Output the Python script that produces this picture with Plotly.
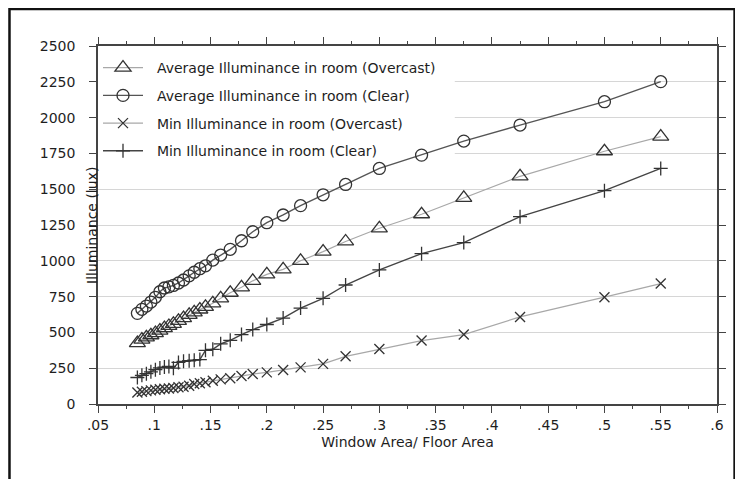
import plotly.graph_objects as go

# ---- data ----
ratio = [0.085, 0.089, 0.093, 0.097, 0.101, 0.105, 0.109, 0.113, 0.117, 0.1215,
         0.126, 0.131, 0.1355, 0.1405, 0.1455, 0.152, 0.159, 0.1675, 0.1775, 0.1875,
         0.2, 0.2145, 0.23, 0.25, 0.27, 0.3, 0.3375, 0.375, 0.425, 0.5, 0.55]

avg_overcast = [425, 450, 465, 480, 495, 512, 530, 545, 560, 580,
                600, 622, 640, 660, 678, 703, 738, 777, 815, 860,
                905, 940, 1000, 1064, 1135, 1227, 1325, 1440, 1590, 1765, 1867]

avg_clear = [633, 661, 684, 712, 745, 784, 810, 818, 828, 845,
             866, 895, 920, 945, 965, 1005, 1040, 1080, 1140, 1203,
             1266, 1320, 1385, 1461, 1533, 1645, 1738, 1836, 1948, 2111, 2251]

min_overcast = [80, 85, 90, 95, 100, 103, 106, 108, 112, 117,
                121, 128, 140, 145, 152, 162, 172, 180, 195, 209,
                221, 237, 256, 280, 333, 384, 443, 485, 608, 746, 841]

min_clear = [185, 200, 212, 225, 240, 252, 258, 262, 250, 290,
             298, 302, 306, 310, 375, 382, 420, 445, 485, 520,
             555, 600, 670, 738, 831, 936, 1050, 1127, 1308, 1490, 1645]

names = ["Average Illuminance in room (Overcast)",
         "Average Illuminance in room (Clear)",
         "Min Illuminance in room (Overcast)",
         "Min Illuminance in room (Clear)"]

x_tickvals = [0.05, 0.1, 0.15, 0.2, 0.25, 0.3, 0.35, 0.4, 0.45, 0.5, 0.55, 0.6]
x_ticktext = [".05", ".1", ".15", ".2", ".25", ".3", ".35", ".4", ".45", ".5", ".55", ".6"]
y_tickvals = [0, 250, 500, 750, 1000, 1250, 1500, 1750, 2000, 2250, 2500]

FONT = "DejaVu Sans"
MK = "#333333"
TXT = "#1e1e1e"
PAD = "\u00a0\u00a0"  # small gap between legend symbol and its label

fig = go.Figure()
styles = [
    (avg_overcast, "triangle-up-open", 14, "#a8a8a8", 1.2),
    (avg_clear, "circle-open", 12, "#555555", 1.4),
    (min_overcast, "x-thin-open", 10, "#a8a8a8", 1.2),
    (min_clear, "cross-thin-open", 10, "#444444", 1.4),
]
for i, (ys, sym, size, lc, lw) in enumerate(styles):
    fig.add_trace(go.Scatter(
        x=ratio, y=ys, name=PAD + names[i], mode="lines+markers",
        legendgroup=f"g{i}",
        line=dict(color=lc, width=lw),
        marker=dict(symbol=sym, size=size, color=MK, line=dict(width=1.3, color=MK)),
    ))

axis_common = dict(
    showline=True, linecolor="#444444", linewidth=1.5, mirror="ticks",
    ticks="outside", tickcolor="#444444", tickwidth=1.3, ticklen=7,
    tickfont=dict(family=FONT, size=14, color=TXT), zeroline=False,
)

fig.update_xaxes(
    range=[0.05, 0.6], tickvals=x_tickvals, ticktext=x_ticktext,
    showgrid=False,
    minor=dict(dtick=0.025, tick0=0.025, ticks="outside", ticklen=3, tickcolor="#444444", showgrid=False),
    title=dict(text="Window Area/ Floor Area", font=dict(family=FONT, size=14, color=TXT), standoff=6),
    **axis_common,
)
fig.update_yaxes(
    range=[0, 2500], tickvals=y_tickvals,
    showgrid=True, gridcolor="#d6d6d6", gridwidth=1,
    ticklabelstandoff=11,
    **axis_common,
)

fig.add_annotation(
    text="Illuminance (lux)", textangle=-90, xref="paper", yref="paper",
    x=-0.0097, y=0.5, xanchor="center", yanchor="middle", showarrow=False,
    font=dict(family=FONT, size=14, color=TXT),
)

# white patch behind the legend (hides the grid lines there, data stays on top)
fig.add_shape(type="rect", xref="x", yref="y", layer="between",
              x0=0.05, x1=0.367, y0=1640, y1=2500,
              fillcolor="white", line=dict(width=0))

# outer frame around the whole picture
fig.add_shape(type="rect", xref="paper", yref="paper",
              x0=-0.143, x1=1.0284, y0=-0.25, y1=1.1034,
              line=dict(color="#111111", width=2.5))

fig.update_layout(
    width=735, height=471,
    margin=dict(l=90, r=26, t=38, b=75),
    paper_bgcolor="white", plot_bgcolor="white",
    showlegend=True,
    legend=dict(x=0.0, y=0.983, xanchor="left", yanchor="top",
                bgcolor="rgba(0,0,0,0)", borderwidth=0, tracegroupgap=6.5,
                itemwidth=40,
                font=dict(family=FONT, size=14, color=TXT)),
    font=dict(family=FONT),
)

fig.write_html("out.html")
